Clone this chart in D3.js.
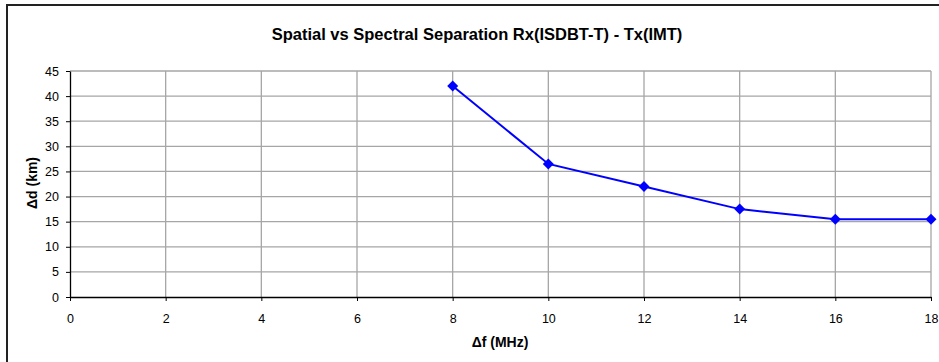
<!DOCTYPE html>
<html>
<head>
<meta charset="utf-8">
<script src="https://cdn.jsdelivr.net/npm/d3@7"></script>
<style>
  body { margin: 0; background: #fff; }
  svg { display: block; font-family: "Liberation Sans", Arial, sans-serif; }
</style>
</head>
<body>
<svg></svg>
<script>
const freqOffsets = [8, 10, 12, 14, 16, 18];
const distances = [42, 26.5, 22, 17.5, 15.5, 15.5];
const xTicks = [0, 2, 4, 6, 8, 10, 12, 14, 16, 18];
const yTicks = [0, 5, 10, 15, 20, 25, 30, 35, 40, 45];

const svg = d3.select("svg")
    .attr("width", 939)
    .attr("height", 362);

// chart frame (cut off on right and bottom)
svg.append("path")
    .attr("d", "M7,366 L7,5 L945,5")
    .attr("fill", "none")
    .attr("stroke", "#222")
    .attr("stroke-width", 2);

const plotLeft = 70, plotRight = 931, plotTop = 71, plotBottom = 297;

const xScale = d3.scaleLinear().domain([0, 18]).range([plotLeft, plotRight]);
const yScale = d3.scaleLinear().domain([0, 45]).range([plotBottom, plotTop]);

// grid
svg.append("g")
    .selectAll("line")
    .data(yTicks.slice(1))
    .enter()
    .append("line")
    .attr("x1", plotLeft).attr("x2", plotRight)
    .attr("y1", d => yScale(d)).attr("y2", d => yScale(d))
    .attr("stroke", "#a6a6a6").attr("stroke-width", 1.3);

svg.append("g")
    .selectAll("line")
    .data(xTicks.slice(1))
    .enter()
    .append("line")
    .attr("x1", d => xScale(d)).attr("x2", d => xScale(d))
    .attr("y1", plotTop).attr("y2", plotBottom)
    .attr("stroke", "#a6a6a6").attr("stroke-width", 1.3);

// axes
const xAxis = svg.append("g")
    .attr("transform", `translate(0,${plotBottom})`)
    .call(d3.axisBottom(xScale).tickValues(xTicks).tickSize(4).tickPadding(13).tickSizeOuter(0));

const yAxis = svg.append("g")
    .attr("transform", `translate(${plotLeft},0)`)
    .call(d3.axisLeft(yScale).tickValues(yTicks).tickSize(4).tickPadding(7).tickSizeOuter(0));

[xAxis, yAxis].forEach(a => {
    a.select(".domain").attr("stroke", "#000").attr("stroke-width", 1.3);
    a.selectAll(".tick line").attr("stroke", "#000");
    a.selectAll(".tick text")
        .attr("font-family", "Liberation Sans, Arial, sans-serif")
        .attr("font-size", 12.5)
        .attr("fill", "#000");
});

// series
const pts = freqOffsets.map((f, i) => [f, distances[i]]);

svg.append("path")
    .datum(pts)
    .attr("fill", "none")
    .attr("stroke", "#0000ff")
    .attr("stroke-width", 2)
    .attr("d", d3.line().x(d => xScale(d[0])).y(d => yScale(d[1])));

svg.selectAll(".marker")
    .data(pts)
    .enter()
    .append("path")
    .attr("class", "marker")
    .attr("transform", d => `translate(${xScale(d[0])},${yScale(d[1])})`)
    .attr("d", "M0,-5.5 L5.5,0 L0,5.5 L-5.5,0 Z")
    .attr("fill", "#0000ff");

// titles
svg.append("text")
    .attr("x", 477).attr("y", 40)
    .attr("text-anchor", "middle")
    .attr("font-weight", "bold")
    .attr("font-size", 16.5)
    .text("Spatial vs Spectral Separation Rx(ISDBT-T) - Tx(IMT)");

svg.append("text")
    .attr("x", 500).attr("y", 347)
    .attr("text-anchor", "middle")
    .attr("font-weight", "bold")
    .attr("font-size", 14)
    .text("\u0394f (MHz)");

svg.append("text")
    .attr("transform", "translate(37,183) rotate(-90)")
    .attr("text-anchor", "middle")
    .attr("font-weight", "bold")
    .attr("font-size", 14)
    .text("\u0394d (km)");
</script>
</body>
</html>
